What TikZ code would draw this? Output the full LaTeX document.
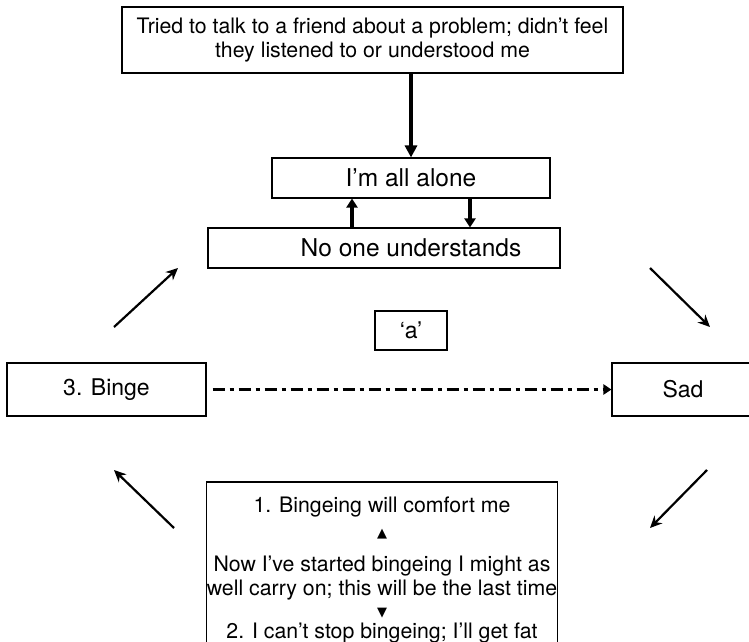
\documentclass[tikz,border=0pt]{standalone}
\usepackage{fontspec}
\setmainfont{TeX Gyre Heros}
\newfontfamily\symfont{DejaVu Sans}
\usetikzlibrary{arrows.meta,positioning}

\newcommand{\uptri}{{\symfont\fontsize{13}{24}\selectfont ▲}}
\newcommand{\downtri}{{\symfont\fontsize{13}{24}\selectfont ▼}}

\begin{document}
\begin{tikzpicture}[
  x=1pt, y=-1pt,
  box/.style={draw, line width=1.1pt, inner sep=0pt, align=center,
              font=\fontsize{23}{28}\selectfont},
  bigbox/.style={box, font=\fontsize{24.5}{28}\selectfont},
  longbox/.style={box, font=\fontsize{21.3}{24}\selectfont},
  arr/.style={-{Stealth[length=12pt, width=11pt]}, line width=2.2pt},
  bigarr/.style={-{Triangle[length=12pt, width=12pt]}, line width=3.5pt},
  shortarr/.style={-{Triangle[length=9pt, width=11pt]}, line width=4pt},
  dashdot/.style={-{Triangle[length=8pt, width=10pt]}, line width=3.5pt,
                  dash pattern=on 12pt off 5pt on 4pt off 5pt}
]
  \useasboundingbox (0,0) rectangle (749,642);

  % boxes
  \node[longbox, minimum width=501pt, minimum height=66pt] (event) at (372.5,40)
        {Tried to talk to a friend about a problem; didn’t feel\\they listened to or understood me};
  \node[bigbox, minimum width=278pt, minimum height=40pt] (alone) at (411,178) {I’m all alone};
  \node[bigbox, minimum width=352pt, minimum height=40pt] (noone) at (384,248)
        {\hspace*{54pt}No one understands};
  \node[box, minimum width=72pt, minimum height=39pt] (a) at (411,330.5) {‘a’};
  \node[box, minimum width=199pt, minimum height=53pt] (binge) at (106.5,389.5) {3. Binge};
  \node[box, minimum width=142pt, minimum height=53pt] (sad) at (683,389.5) {Sad};
  \node[longbox, minimum width=350pt, minimum height=176pt] (thoughts) at (382,570)
        {1. Bingeing will comfort me\\[1pt]
         \uptri\\[10pt]
         Now I’ve started bingeing I might as\\
         well carry on; this will be the last time\\[-3pt]
         \downtri\\[-2pt]
         2. I can’t stop bingeing; I’ll get fat};

  % free ends of the cycle arrows
  \coordinate (ul1) at (114,327);  \coordinate (ul2) at (178,268);
  \coordinate (ur1) at (650,268);  \coordinate (ur2) at (710,327);
  \coordinate (lr1) at (707,470);  \coordinate (lr2) at (650,528);
  \coordinate (ll1) at (174,528);  \coordinate (ll2) at (114,470);

  % connectors
  \draw[bigarr] (event.south -| alone.north) -- (alone.north);
  \draw[shortarr] ([xshift=-32pt]noone.north) -- ([xshift=-59pt]alone.south);
  \draw[shortarr] ([xshift=59pt]alone.south) -- ([xshift=86pt]noone.north);
  \draw[dashdot, shorten <=6pt] (binge.east) -- (sad.west);
  \draw[arr] (ul1) -- (ul2);
  \draw[arr] (ur1) -- (ur2);
  \draw[arr] (lr1) -- (lr2);
  \draw[arr] (ll1) -- (ll2);
\end{tikzpicture}
\end{document}
